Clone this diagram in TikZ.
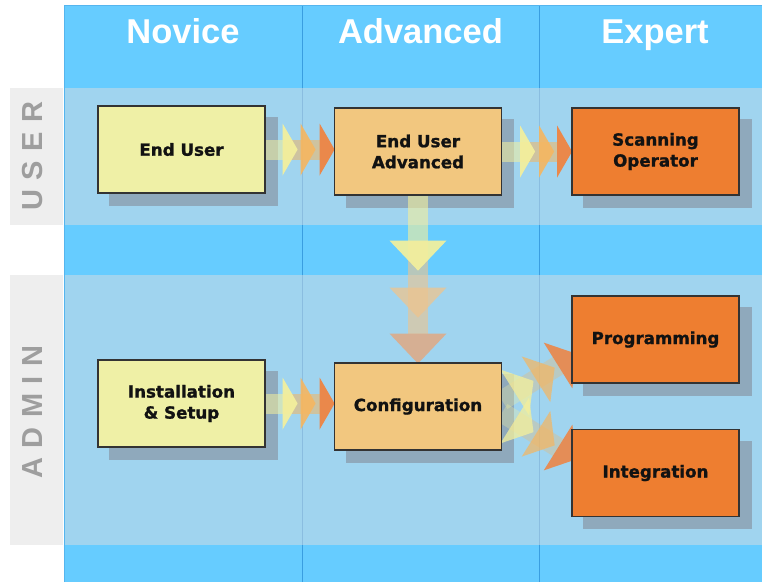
\documentclass[tikz,border=0pt]{standalone}
\usepackage{fontspec}
\newfontfamily\hdfont{Liberation Sans}
\newfontfamily\boxfont[FakeBold=1.2]{DejaVu Sans Bold}
\usetikzlibrary{calc}
\definecolor{brightblue}{HTML}{66CCFF}
\definecolor{bandgray}{HTML}{DADCE1}
\definecolor{divline}{HTML}{3A9EE0}
\definecolor{edgeblue}{HTML}{55B5EE}
\definecolor{stripgray}{HTML}{EEEEEE}
\definecolor{labelgray}{HTML}{9E9E9E}
\definecolor{shadowc}{HTML}{8FA9BC}
\definecolor{novfill}{HTML}{EFF0A6}
\definecolor{advfill}{HTML}{F2C77F}
\definecolor{expfill}{HTML}{EE7E30}
\definecolor{boxline}{HTML}{333333}
\definecolor{ayellow}{HTML}{F4F09C}
\definecolor{aorange}{HTML}{F5B660}
\definecolor{adark}{HTML}{EE8443}
\definecolor{atan}{HTML}{EEC48E}
\definecolor{atan2}{HTML}{E0A984}
\pgfdeclarelayer{bg}
\pgfdeclarelayer{shadow}
\pgfdeclarelayer{arrows}
\pgfsetlayers{bg,shadow,arrows,main}
\tikzset{
  stagebox/.style={draw=boxline, line width=1.2pt, minimum width=167pt,
    minimum height=87pt, inner sep=2pt, align=center,
    font=\boxfont\fontsize{16.7}{21}\selectfont, text=black!93},
  novbox/.style={stagebox, fill=novfill},
  advbox/.style={stagebox, fill=advfill},
  expbox/.style={stagebox, fill=expfill},
  header/.style={text=white, font=\hdfont\bfseries\fontsize{34.5}{40}\selectfont,
    anchor=base, inner sep=0pt},
  sidelabel/.style={text=labelgray, font=\hdfont\bfseries\fontsize{29}{34}\selectfont,
    rotate=90, inner sep=0pt},
  h-shaftA/.style={fill=ayellow, opacity=0.55},
  h-shaftB/.style={fill=aorange, opacity=0.55},
  h-1/.style={fill=ayellow, opacity=0.92},
  h-2/.style={fill=aorange, opacity=0.9},
  h-3/.style={fill=adark, opacity=0.95},
  v-shaftA/.style={fill=ayellow, opacity=0.6},
  v-shaftB/.style={fill=atan, opacity=0.6},
  v-1/.style={fill=ayellow, opacity=0.92},
  v-2/.style={fill=atan, opacity=0.75},
  v-3/.style={fill=atan2, opacity=0.85},
  d-shaftA/.style={fill=ayellow, opacity=0.3},
  d-shaftB/.style={fill=aorange, opacity=0.3},
  d-1/.style={fill=ayellow, opacity=0.75},
  d-2/.style={fill=aorange, opacity=0.7},
  d-3/.style={fill=adark, opacity=0.88},
}
% #1 start, #2 angle, #3 half width, #4 depth, #5 b1, #6 b2, #7 b3, #8 style prefix
\newcommand\triarrow[8]{%
  \begin{scope}[shift={#1}, rotate=#2]
    \fill[#8-shaftA] (0,-10) rectangle (#5,10);
    \fill[#8-shaftB] (#5,-10) rectangle (#7,10);
    \fill[#8-1] (#5,-#3) -- ({#5+#4},0) -- (#5,#3) -- cycle;
    \fill[#8-2] (#6,-#3) -- ({#6+#4},0) -- (#6,#3) -- cycle;
    \fill[#8-3] (#7,-#3) -- ({#7+#4},0) -- (#7,#3) -- cycle;
  \end{scope}}
\begin{document}
\begin{tikzpicture}[x=1pt, y=-1pt]
\useasboundingbox (0,0) rectangle (762,582);
\begin{pgfonlayer}{bg}
  \fill[white] (0,0) rectangle (762,582);
  \fill[brightblue] (64,5) rectangle (762,582);
  \draw[divline, line width=1pt] (302,5) -- (302,582);
  \draw[divline, line width=1pt] (539,5) -- (539,582);
  \fill[bandgray, opacity=0.5] (64,88) rectangle (762,225);
  \fill[bandgray, opacity=0.5] (64,275) rectangle (762,545);
  \draw[edgeblue, line width=1pt] (64,582) -- (64,5) -- (762,5);
  \fill[stripgray] (10,88) rectangle (63,225);
  \fill[stripgray] (10,275) rectangle (63,545);
\end{pgfonlayer}

\node[header] (hnov) at (183,43) {Novice};
\node[header] (hadv) at (420.5,43) {Advanced};
\node[header] (hexp) at (655,43) {Expert};

\node[sidelabel] (luser) at (32.5,156) {U\hspace{9.5pt}S\hspace{9.5pt}E\hspace{9.5pt}R};
\node[sidelabel] (ladmin) at (32.5,412) {A\hspace{9.5pt}D\hspace{9.5pt}M\hspace{9.5pt}I\hspace{9.5pt}N};

\node[novbox] (eu) at (181.5,149.5) {End User};
\node[advbox] (eua) at (418,151.5) {End User\\Advanced};
\node[expbox] (so) at (655.5,151.5) {Scanning\\Operator};
\node[novbox] (ins) at (181.5,403.5) {Installation\\\& Setup};
\node[advbox] (conf) at (418,406.5) {Configuration};
\node[expbox] (prog) at (655.5,339.5) {Programming};
\node[expbox] (integ) at (655.5,473) {Integration};

\begin{pgfonlayer}{shadow}
  \foreach \b in {eu,eua,so,ins,conf,prog,integ}
    \fill[shadowc] ($(\b.south west)+(12,12)$) rectangle ($(\b.north east)+(12,12)$);
\end{pgfonlayer}

\begin{pgfonlayer}{arrows}
  \triarrow{(eu.east)}{0}{26}{15}{17}{35}{54}{h}
  \triarrow{(eua.east)}{0}{26}{15}{18}{37}{55}{h}
  \triarrow{(ins.east)}{0}{26}{15}{17}{35}{54}{h}
  \triarrow{(eua.south)}{-90}{28.5}{30}{45}{92}{138}{v}
  \triarrow{($(conf.east)+(0,-6)$)}{32}{27}{22}{15}{40}{66}{d}
  \triarrow{($(conf.east)+(0,6)$)}{-32}{27}{22}{15}{40}{66}{d}
\end{pgfonlayer}
\end{tikzpicture}
\end{document}
